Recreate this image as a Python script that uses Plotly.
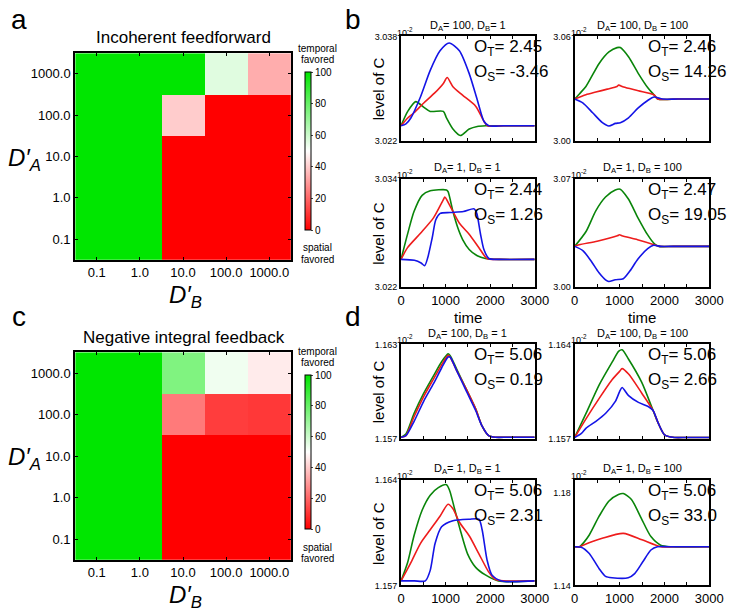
import plotly.graph_objects as go

W, H = 736, 615
FONT = "Liberation Sans, Arial, sans-serif"

# ---------------- heatmap data (rows: D_A', columns: D_B') ----------------
D_B_LABELS = ['0.1', '1.0', '10.0', '100.0', '1000.0']
D_A_LABELS = ['0.1', '1.0', '10.0', '100.0', '1000.0']
Z_FEEDFORWARD = [
    [100, 100, 0, 0, 0],
    [100, 100, 0, 0, 0],
    [100, 100, 0, 0, 0],
    [100, 100, 40, 0, 0],
    [100, 100, 100, 56, 34],
]
Z_INTEGRAL = [
    [100, 100, 0, 0, 0],
    [100, 100, 0, 0, 0],
    [100, 100, 0, 0, 0],
    [100, 100, 24, 12, 11],
    [100, 100, 75, 53, 46],
]
CBAR_TICKS = [0, 20, 40, 60, 80, 100]

# ---------------- time-course data (level of C, x 10^-2) ----------------
TIME_TICKS = [0, 1000, 2000, 3000]
TIME_LABELS = ['0', '1000', '2000', '3000']

# b: incoherent feedforward
B1_T_GREEN = [0, 150, 330, 500, 655, 950, 1020, 1165, 1330, 1530, 1710, 1900, 2300, 3000]
B1_GREEN = [3.0243, 3.0265, 3.0280, 3.0272, 3.0265, 3.0265, 3.0255, 3.0238, 3.0228, 3.0238, 3.0242, 3.0243, 3.0243, 3.0243]
B1_T_RED = [0, 150, 290, 510, 750, 950, 1035, 1165, 1380, 1675, 1860, 1940, 2300, 3000]
B1_RED = [3.0243, 3.0255, 3.0263, 3.0278, 3.0293, 3.0308, 3.0317, 3.0303, 3.0290, 3.0273, 3.0250, 3.0243, 3.0243, 3.0243]
B1_T_BLUE = [0, 110, 220, 440, 655, 875, 1080, 1310, 1530, 1710, 1860, 1970, 2300, 3000]
B1_BLUE = [3.0243, 3.0246, 3.0255, 3.0288, 3.0328, 3.0358, 3.0370, 3.0358, 3.0323, 3.0283, 3.0250, 3.0243, 3.0243, 3.0243]

B2_T_GREEN = [0, 110, 250, 545, 763, 944, 1017, 1199, 1416, 1634, 1765, 1852, 2300, 3000]
B2_GREEN = [3.0240, 3.0271, 3.0312, 3.0445, 3.0511, 3.0536, 3.0536, 3.0483, 3.0388, 3.0303, 3.0265, 3.0240, 3.0240, 3.0240]
B2_T_RED = [0, 250, 472, 726, 944, 980, 1090, 1416, 1765, 1852, 2300, 3000]
B2_RED = [3.0240, 3.0265, 3.0280, 3.0297, 3.0312, 3.0320, 3.0309, 3.0288, 3.0265, 3.0240, 3.0240, 3.0240]
B2_T_BLUE = [0, 180, 400, 617, 763, 908, 1017, 1199, 1416, 1634, 1765, 1960, 2300, 3000]
B2_BLUE = [3.0240, 3.0218, 3.0161, 3.0104, 3.0085, 3.0100, 3.0104, 3.0132, 3.0189, 3.0233, 3.0252, 3.0240, 3.0240, 3.0240]

B3_T_GREEN = [0, 146, 291, 473, 655, 1019, 1056, 1165, 1274, 1383, 1529, 1711, 1893, 2200, 3000]
B3_GREEN = [3.0251, 3.0279, 3.0304, 3.0322, 3.0327, 3.0328, 3.0326, 3.0304, 3.0286, 3.0273, 3.0262, 3.0255, 3.0252, 3.0251, 3.0251]
B3_T_RED = [0, 146, 437, 728, 947, 983, 1092, 1311, 1529, 1748, 1930, 2200, 3000]
B3_RED = [3.0251, 3.0264, 3.0280, 3.0297, 3.0317, 3.0320, 3.0311, 3.0291, 3.0279, 3.0264, 3.0252, 3.0251, 3.0251]
B3_T_BLUE = [0, 300, 450, 530, 600, 700, 780, 880, 1100, 1400, 1640, 1700, 1780, 1860, 1970, 2200, 3000]
B3_BLUE = [3.0251, 3.0250, 3.0247, 3.0244, 3.0253, 3.0275, 3.0295, 3.0302, 3.0303, 3.0304, 3.0307, 3.0302, 3.0280, 3.0262, 3.0252, 3.0251, 3.0251]

B4_T_GREEN = [0, 253, 470, 687, 904, 1012, 1193, 1410, 1627, 1771, 1880, 2200, 3000]
B4_GREEN = [3.0265, 3.0361, 3.0495, 3.0584, 3.0629, 3.0635, 3.0573, 3.0450, 3.0339, 3.0283, 3.0265, 3.0265, 3.0265]
B4_T_RED = [0, 100, 500, 950, 1000, 1050, 1400, 1770, 1880, 2200, 3000]
B4_RED = [3.0265, 3.0275, 3.0298, 3.0333, 3.0340, 3.0334, 3.0308, 3.0276, 3.0265, 3.0265, 3.0265]
B4_T_BLUE = [0, 181, 361, 542, 687, 759, 904, 1084, 1229, 1410, 1627, 1757, 1916, 2200, 3000]
B4_BLUE = [3.0265, 3.0238, 3.0172, 3.0094, 3.0049, 3.0038, 3.0049, 3.0056, 3.0105, 3.0183, 3.0250, 3.0272, 3.0265, 3.0265, 3.0265]

# d: negative integral feedback
D1_T = [0, 109, 291, 510, 728, 910, 1056, 1100, 1238, 1456, 1675, 1820, 1966, 2112, 2400, 3000]
D1_GREEN = [1.1571, 1.1573, 1.1586, 1.1599, 1.1610, 1.1619, 1.1624, 1.1623, 1.1615, 1.1602, 1.1589, 1.1578, 1.1572, 1.1571, 1.1571, 1.1571]
D1_RED = [1.1571, 1.1572, 1.1584, 1.1597, 1.1608, 1.1617, 1.1623, 1.1622, 1.1614, 1.1602, 1.1589, 1.1578, 1.1572, 1.1571, 1.1571, 1.1571]
D1_BLUE = [1.1571, 1.1572, 1.1581, 1.1594, 1.1605, 1.1615, 1.1622, 1.1622, 1.1614, 1.1601, 1.1588, 1.1578, 1.1572, 1.1571, 1.1571, 1.1571]

D2_T_GREEN = [0, 255, 546, 837, 983, 1056, 1201, 1492, 1747, 1857, 2002, 2220, 2500, 3000]
D2_GREEN = [1.1571, 1.1589, 1.1610, 1.1627, 1.1635, 1.1636, 1.1629, 1.1612, 1.1591, 1.1582, 1.1573, 1.1571, 1.1571, 1.1571]
D2_T_RED = [0, 255, 546, 837, 1000, 1056, 1201, 1492, 1747, 1857, 2002, 2220, 2500, 3000]
D2_RED = [1.1571, 1.1585, 1.1600, 1.1614, 1.1620, 1.1622, 1.1618, 1.1604, 1.1591, 1.1582, 1.1573, 1.1571, 1.1571, 1.1571]
D2_T_BLUE = [0, 150, 255, 473, 691, 910, 1000, 1056, 1201, 1420, 1638, 1747, 1857, 2002, 2220, 2500, 3000]
D2_BLUE = [1.1571, 1.1574, 1.1578, 1.1583, 1.1589, 1.1598, 1.1605, 1.1608, 1.1602, 1.1597, 1.1594, 1.1591, 1.1582, 1.1573, 1.1571, 1.1571, 1.1571]

D3_T_GREEN = [0, 146, 291, 473, 655, 837, 1019, 1092, 1201, 1347, 1493, 1675, 1893, 2184, 3000]
D3_GREEN = [1.1573, 1.1585, 1.1603, 1.1620, 1.1630, 1.1635, 1.1637, 1.1633, 1.1621, 1.1605, 1.1591, 1.1582, 1.1577, 1.1573, 1.1573]
D3_T_RED = [0, 218, 437, 655, 874, 1056, 1165, 1311, 1529, 1748, 1966, 2112, 2300, 3000]
D3_RED = [1.1573, 1.1585, 1.1598, 1.1607, 1.1616, 1.1624, 1.1621, 1.1612, 1.1603, 1.1591, 1.1579, 1.1574, 1.1573, 1.1573]
D3_T_BLUE = [0, 300, 546, 655, 765, 910, 1165, 1529, 1748, 1820, 1930, 2039, 2257, 3000]
D3_BLUE = [1.1573, 1.1573, 1.1573, 1.1580, 1.1598, 1.1609, 1.1613, 1.1614, 1.1614, 1.1607, 1.1587, 1.1577, 1.1573, 1.1573]

D4_T_GREEN = [0, 108, 200, 325, 542, 759, 976, 1084, 1265, 1482, 1699, 1916, 2150, 3000]
D4_GREEN = [1.1567, 1.1567, 1.1585, 1.1618, 1.1698, 1.1764, 1.1793, 1.1797, 1.1771, 1.1691, 1.1611, 1.1574, 1.1567, 1.1567]
D4_T_RED = [0, 108, 200, 614, 1084, 1500, 1916, 2200, 3000]
D4_RED = [1.1567, 1.1567, 1.1575, 1.1604, 1.1625, 1.1597, 1.1567, 1.1567, 1.1567]
D4_T_BLUE = [0, 145, 325, 542, 687, 831, 1193, 1337, 1518, 1699, 1843, 2100, 3000]
D4_BLUE = [1.1567, 1.1565, 1.1538, 1.1473, 1.1439, 1.1433, 1.1433, 1.1451, 1.1502, 1.1553, 1.1567, 1.1567, 1.1567]

PANEL_TITLES = {
    'b1': 'D<sub>A</sub>= 100, D<sub>B</sub>= 1',
    'b2': 'D<sub>A</sub>= 100, D<sub>B</sub> = 100',
    'b3': 'D<sub>A</sub>= 1, D<sub>B</sub> = 1',
    'b4': 'D<sub>A</sub>= 1, D<sub>B</sub> = 100',
    'd1': 'D<sub>A</sub>= 100, D<sub>B</sub> = 1',
    'd2': 'D<sub>A</sub>= 100, D<sub>B</sub> = 100',
    'd3': 'D<sub>A</sub>= 1, D<sub>B</sub> = 1',
    'd4': 'D<sub>A</sub>= 1, D<sub>B</sub> = 100',
}
O_T = {'b1': '2.45', 'b2': '2.46', 'b3': '2.44', 'b4': '2.47',
       'd1': '5.06', 'd2': '5.06', 'd3': '5.06', 'd4': '5.06'}
O_S = {'b1': '-3.46', 'b2': '14.26', 'b3': '1.26', 'b4': '19.05',
       'd1': '0.19', 'd2': '2.66', 'd3': '2.31', 'd4': '33.0'}
Y_TICKS = {
    'b1': ([3.022, 3.038], ['3.022', '3.038']),
    'b2': ([3.00, 3.06], ['3.00', '3.06']),
    'b3': ([3.022, 3.034], ['3.022', '3.034']),
    'b4': ([3.00, 3.07], ['3.00', '3.07']),
    'd1': ([1.157, 1.163], ['1.157', '1.163']),
    'd2': ([1.157, 1.164], ['1.157', '1.164']),
    'd3': ([1.157, 1.164], ['1.157', '1.164']),
    'd4': ([1.14, 1.18], ['1.14', '1.18']),
}
Y_TOP = {'b1': 3.038, 'b2': 3.06, 'b3': 3.034, 'b4': 3.07,
         'd1': 1.163, 'd2': 1.164, 'd3': 1.164, 'd4': 1.1855}
CURVES = {
    'b1': [(B1_T_GREEN, B1_GREEN), (B1_T_RED, B1_RED), (B1_T_BLUE, B1_BLUE)],
    'b2': [(B2_T_GREEN, B2_GREEN), (B2_T_RED, B2_RED), (B2_T_BLUE, B2_BLUE)],
    'b3': [(B3_T_GREEN, B3_GREEN), (B3_T_RED, B3_RED), (B3_T_BLUE, B3_BLUE)],
    'b4': [(B4_T_GREEN, B4_GREEN), (B4_T_RED, B4_RED), (B4_T_BLUE, B4_BLUE)],
    'd1': [(D1_T, D1_GREEN), (D1_T, D1_RED), (D1_T, D1_BLUE)],
    'd2': [(D2_T_GREEN, D2_GREEN), (D2_T_RED, D2_RED), (D2_T_BLUE, D2_BLUE)],
    'd3': [(D3_T_GREEN, D3_GREEN), (D3_T_RED, D3_RED), (D3_T_BLUE, D3_BLUE)],
    'd4': [(D4_T_GREEN, D4_GREEN), (D4_T_RED, D4_RED), (D4_T_BLUE, D4_BLUE)],
}

# ---------------- layout geometry (pixels) ----------------
LINE_COLORS = ['#0a850a', '#ee1c1c', '#1414e6']
COL_X = {'L': (407, 544), 'R': (585, 723)}
ROW_Y = {'bt': (32, 138), 'bb': (177, 287), 'dt': (345, 441), 'db': (483, 590)}
PANELS = [
    ('b1', 'L', 'bt', False), ('b2', 'R', 'bt', False),
    ('b3', 'L', 'bb', True), ('b4', 'R', 'bb', True),
    ('d1', 'L', 'dt', False), ('d2', 'R', 'dt', False),
    ('d3', 'L', 'db', True), ('d4', 'R', 'db', True),
]


def fx(p):
    return p / W


def fy(p):
    return 1 - p / H


HEAT_SCALE = [[0, '#ff0000'], [0.5, '#ffffff'], [1, '#00e600']]

fig = go.Figure()
layout = dict(width=W, height=H, margin=dict(l=0, r=0, t=0, b=0, pad=0),
              paper_bgcolor='white', plot_bgcolor='white', showlegend=False,
              font=dict(family=FONT, color='black'))
ann = []


def A(text, x, y, size, **kw):
    d = dict(text=text, x=fx(x), y=fy(y), xref='paper', yref='paper', showarrow=False,
             xanchor='center', yanchor='middle',
             font=dict(family=FONT, size=size, color='black'))
    d.update(kw)
    ann.append(d)


# ---------------- heatmaps ----------------
HEATS = [
    (Z_FEEDFORWARD, '', (49, 259), (68, 229), 'Incoherent feedforward', 33, 'a', 15),
    (Z_INTEGRAL, '2', (353, 564), (376, 533), 'Negative integral feedback', 338, 'c', 317),
]
for z, ax, (ty, by), (cty, cby), title, title_y, letter, letter_y in HEATS:
    fig.add_trace(go.Heatmap(
        z=z, x=D_B_LABELS, y=D_A_LABELS, xaxis='x' + ax, yaxis='y' + ax,
        colorscale=HEAT_SCALE, zmin=0, zmax=100, hoverinfo='skip',
        colorbar=dict(x=fx(309), xanchor='left', y=fy((cty + cby) / 2), yanchor='middle',
                      len=(cby - cty) / H, lenmode='fraction', thickness=6,
                      thicknessmode='pixels', outlinecolor='black', outlinewidth=1,
                      tickvals=CBAR_TICKS, ticks='outside', ticklen=2, tickwidth=1,
                      tickfont=dict(size=10, family=FONT), xpad=0, ypad=0)))
    axcommon = dict(type='category', showline=True, linecolor='black', linewidth=2,
                    mirror='allticks', ticks='inside', ticklen=3, tickcolor='black',
                    showgrid=False, zeroline=False, tickfont=dict(size=13, family=FONT))
    layout['xaxis' + ax] = dict(domain=[fx(73), fx(294)], anchor='y' + ax, **axcommon)
    layout['yaxis' + ax] = dict(domain=[fy(by), fy(ty)], anchor='x' + ax, **axcommon)
    A(title, 184, title_y, 17)
    A(letter, 15, letter_y, 28)
    A('temporal', 321, cty - 24, 10)
    A('favored', 321, cty - 13, 10)
    A('spatial', 321, cby + 18, 10)
    A('favored', 321, cby + 30, 10)
    A("<i>D′</i><sub><i>A</i></sub>", 21, ty + 108, 24)
    A("<i>D′</i><sub><i>B</i></sub>", 186, by + 37, 24)

A('b', 358, 15, 28)
A('d', 358, 317, 28)

# ---------------- line panels ----------------
for i, (key, col, row, bottom) in enumerate(PANELS):
    n = str(i + 3)
    l, r = COL_X[col]
    t, b = ROW_Y[row]
    for (tt, vv), c in zip(CURVES[key], LINE_COLORS):
        fig.add_trace(go.Scatter(x=tt, y=vv, mode='lines', xaxis='x' + n, yaxis='y' + n,
                                 line=dict(color=c, width=1.6, shape='spline', smoothing=0.7),
                                 hoverinfo='skip'))
    tv, tt = Y_TICKS[key]
    layout['xaxis' + n] = dict(domain=[fx(l), fx(r)], anchor='y' + n, range=[0, 3000],
                               tickvals=TIME_TICKS, ticktext=TIME_LABELS,
                               showticklabels=bottom,
                               ticks='inside', ticklen=3, tickcolor='black', mirror='allticks',
                               minor=dict(dtick=500, tick0=0, ticks='inside', ticklen=3,
                                          tickcolor='black'),
                               showline=True, linecolor='black', linewidth=2,
                               showgrid=False, zeroline=False,
                               tickfont=dict(size=13, family=FONT))
    layout['yaxis' + n] = dict(domain=[fy(b), fy(t)], anchor='x' + n, range=[tv[0], Y_TOP[key]],
                               tickvals=tv, ticktext=tt, ticks='', showline=True,
                               linecolor='black', linewidth=2, mirror=True,
                               showgrid=False, zeroline=False,
                               tickfont=dict(size=9, family=FONT))
    A(PANEL_TITLES[key], (l + r) / 2, t - 11, 11)
    A('10<sup>-2</sup>', l - 6, t - 5, 9, xanchor='left')
    A('O<sub>T</sub>= ' + O_T[key], l + 73, t + 12, 17, xanchor='left')
    A('O<sub>S</sub>= ' + O_S[key], l + 73, t + 37, 17, xanchor='left')

for yc in (85, 232, 393, 537):
    A('level of C', 384, yc, 15, textangle=-90)
for xc in (476, 654):
    A('time', xc, 318, 15)

layout['annotations'] = ann
fig.update_layout(**layout)
fig.write_html('out.html', config={'displayModeBar': False},
               post_script="document.body.style.margin='0px';document.body.style.overflow='hidden';")
